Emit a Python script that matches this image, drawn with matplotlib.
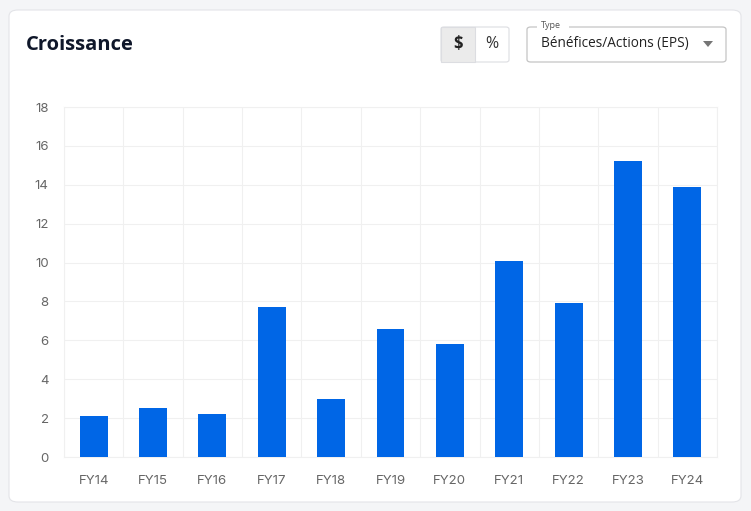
import numpy as np
import matplotlib.pyplot as plt
from matplotlib.patches import FancyBboxPatch, Rectangle, Polygon

categories = ["FY14", "FY15", "FY16", "FY17", "FY18", "FY19",
              "FY20", "FY21", "FY22", "FY23", "FY24"]
eps = [2.1, 2.5, 2.2, 7.7, 3.0, 6.6, 5.8, 10.1, 7.9, 15.2, 13.9]
yticks = [0, 2, 4, 6, 8, 10, 12, 14, 16, 18]

W, H = 751, 511
bar_color = "#0066e6"
grid_color = "#f0f0f0"
tick_color = "#666666"

plt.rcParams['font.family'] = ['Inter', 'DejaVu Sans']

fig = plt.figure(figsize=(W / 100, H / 100), dpi=100)
fig.patch.set_facecolor("#f4f5f7")


def px(x, y, w, h):
    # pixel box (top-left origin) -> figure fraction
    return x / W, 1 - (y + h) / H, w / W, h / H


# white card
card = FancyBboxPatch(px(9, 10, 732, 492)[:2], 732 / W, 492 / H,
                      boxstyle="round,pad=0,rounding_size=0.012",
                      transform=fig.transFigure, facecolor="white",
                      edgecolor="#e3e4e8", linewidth=0.8, zorder=0)
fig.patches.append(card)

fig.text(26 / W, 1 - 45 / H, "Croissance", family="Open Sans",
         fontsize=14.5, fontweight="bold", color="#0f172a", va="center")

# $ / % toggle
x0, y0, bw, bh = 441, 27, 34, 35
fig.patches.append(FancyBboxPatch(px(x0, y0, 2 * bw, bh)[:2], 2 * bw / W, bh / H,
                                  boxstyle="round,pad=0,rounding_size=0.004",
                                  transform=fig.transFigure, facecolor="white",
                                  edgecolor="#dcdde1", linewidth=0.8, zorder=1))
fig.patches.append(Rectangle(px(x0, y0, bw, bh)[:2], bw / W, bh / H,
                             transform=fig.transFigure, facecolor="#ebebeb",
                             edgecolor="#dcdde1", linewidth=0.8, zorder=2))
fig.text((x0 + bw / 2) / W, 1 - (y0 + bh / 2) / H, "$", family="Open Sans",
         fontsize=12, fontweight="bold", color="#222222", ha="center", va="center", zorder=3)
fig.text((x0 + 1.5 * bw) / W, 1 - (y0 + bh / 2) / H, "%", family="Open Sans",
         fontsize=11.5, color="#333333", ha="center", va="center", zorder=3)

# dropdown
dx, dy, dw, dh = 527, 27, 199, 35
fig.patches.append(FancyBboxPatch(px(dx, dy, dw, dh)[:2], dw / W, dh / H,
                                  boxstyle="round,pad=0,rounding_size=0.005",
                                  transform=fig.transFigure, facecolor="white",
                                  edgecolor="#c4c4c4", linewidth=0.9, zorder=1))
fig.patches.append(Rectangle(px(537, 20, 32, 10)[:2], 32 / W, 10 / H,
                             transform=fig.transFigure, facecolor="white",
                             edgecolor="none", zorder=2))
fig.text(541 / W, 1 - 25 / H, "Type", family="Open Sans", fontsize=6.5,
         color="#555555", va="center", zorder=3)
fig.text(541 / W, 1 - 44 / H, "Bénéfices/Actions (EPS)", family="Open Sans",
         fontsize=9.8, color="#222222", va="center", zorder=3)
tri = np.array([[703, 41], [713, 41], [708, 47]], dtype=float)
fig.patches.append(Polygon(np.column_stack([tri[:, 0] / W, 1 - tri[:, 1] / H]),
                           closed=True, transform=fig.transFigure,
                           facecolor="#757575", edgecolor="none", zorder=3))

# chart
ax = fig.add_axes([64 / W, 1 - 457 / H, 653 / W, 350 / H])
ax.set_zorder(5)
ax.set_facecolor("none")
x = np.arange(len(categories))
ax.bar(x, eps, width=0.47, color=bar_color, zorder=3)

ax.set_xlim(-0.5, len(categories) - 0.5)
ax.set_ylim(0, 18)
ax.set_yticks(yticks)
ax.set_xticks(x)
ax.set_xticklabels(categories)
ax.set_xticks(np.arange(len(categories) + 1) - 0.5, minor=True)

ax.grid(True, axis="y", which="major", color=grid_color, linewidth=0.8, zorder=0)
ax.grid(True, axis="x", which="minor", color=grid_color, linewidth=0.8, zorder=0)
ax.grid(False, axis="x", which="major")
for s in ax.spines.values():
    s.set_color(grid_color)
    s.set_linewidth(0.8)

ax.tick_params(axis="both", which="both", length=0, colors=tick_color, labelsize=9.5)
ax.tick_params(axis="y", pad=11)
ax.tick_params(axis="x", pad=13)

fig.savefig("out.png", dpi=100, facecolor=fig.get_facecolor())
